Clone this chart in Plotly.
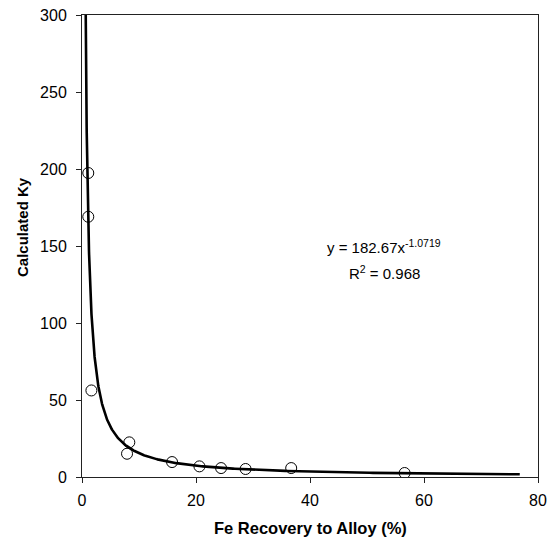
import numpy as np
import plotly.graph_objects as go

# Measured points: Fe recovery to alloy (%) vs calculated Ky
fe_recovery = [1.1, 1.1, 1.65, 7.9, 8.3, 15.8, 20.6, 24.4, 28.7, 36.7, 56.6]
calc_ky = [197.4, 169.0, 56.2, 15.1, 22.5, 9.7, 6.9, 5.8, 5.2, 5.8, 2.6]

# Power-law trendline y = a * x^b
fit_a = 182.67
fit_b = -1.0719
fit_r2 = 0.968
fit_x_start = 0.55
fit_x_end = 76.8

x_ticks = [0, 20, 40, 60, 80]
y_ticks = [0, 50, 100, 150, 200, 250, 300]

FONT = "Liberation Sans, Arial, sans-serif"

fit_x = np.geomspace(fit_x_start, fit_x_end, 400)
fit_y = fit_a * fit_x ** fit_b

fig = go.Figure()
fig.add_trace(go.Scatter(
    x=fit_x, y=fit_y, mode="lines",
    line=dict(color="black", width=2.6),
    hoverinfo="skip", showlegend=False,
))
fig.add_trace(go.Scatter(
    x=fe_recovery, y=calc_ky, mode="markers",
    marker=dict(symbol="circle-open", size=11, color="black", line=dict(width=1)),
    showlegend=False,
))

W, H = 551, 543
ml, mr, mt, mb = 82, 13, 15, 66
pw, ph = W - ml - mr, H - mt - mb


def px_to_paper(px, py):
    return (px - ml) / pw, 1 - (py - mt) / ph


def add_text(px, py, text, size, angle=0):
    x, y = px_to_paper(px, py)
    fig.add_annotation(
        x=x, y=y, xref="paper", yref="paper", showarrow=False,
        text=text, textangle=angle, xanchor="center", yanchor="middle",
        font=dict(size=size, color="black", family=FONT),
    )


# fit equation and goodness of fit
add_text(384, 246, f"y = {fit_a}x<sup>{fit_b}</sup>", 15)
add_text(384, 272, f"R<sup>2</sup> = {fit_r2}", 15)

# axis titles
add_text(310.5, 528, "<b>Fe Recovery to Alloy (%)</b>", 16.5)
add_text(22, 227, "<b>Calculated Ky</b>", 15, angle=-90)

axis_common = dict(
    showgrid=False, zeroline=False, automargin=False,
    showline=True, linecolor="#222", linewidth=1, mirror=True,
    ticks="outside", ticklen=5, tickcolor="#222", tickwidth=1,
    tickfont=dict(size=16, color="black", family=FONT),
)

fig.update_xaxes(range=[0, 80], tickvals=x_ticks, ticklabelstandoff=4, **axis_common)
fig.update_yaxes(range=[0, 300], tickvals=y_ticks, ticklabelstandoff=6, **axis_common)

fig.update_layout(
    width=W, height=H,
    margin=dict(l=ml, r=mr, t=mt, b=mb),
    paper_bgcolor="white", plot_bgcolor="white",
)

fig.write_html("out.html")
